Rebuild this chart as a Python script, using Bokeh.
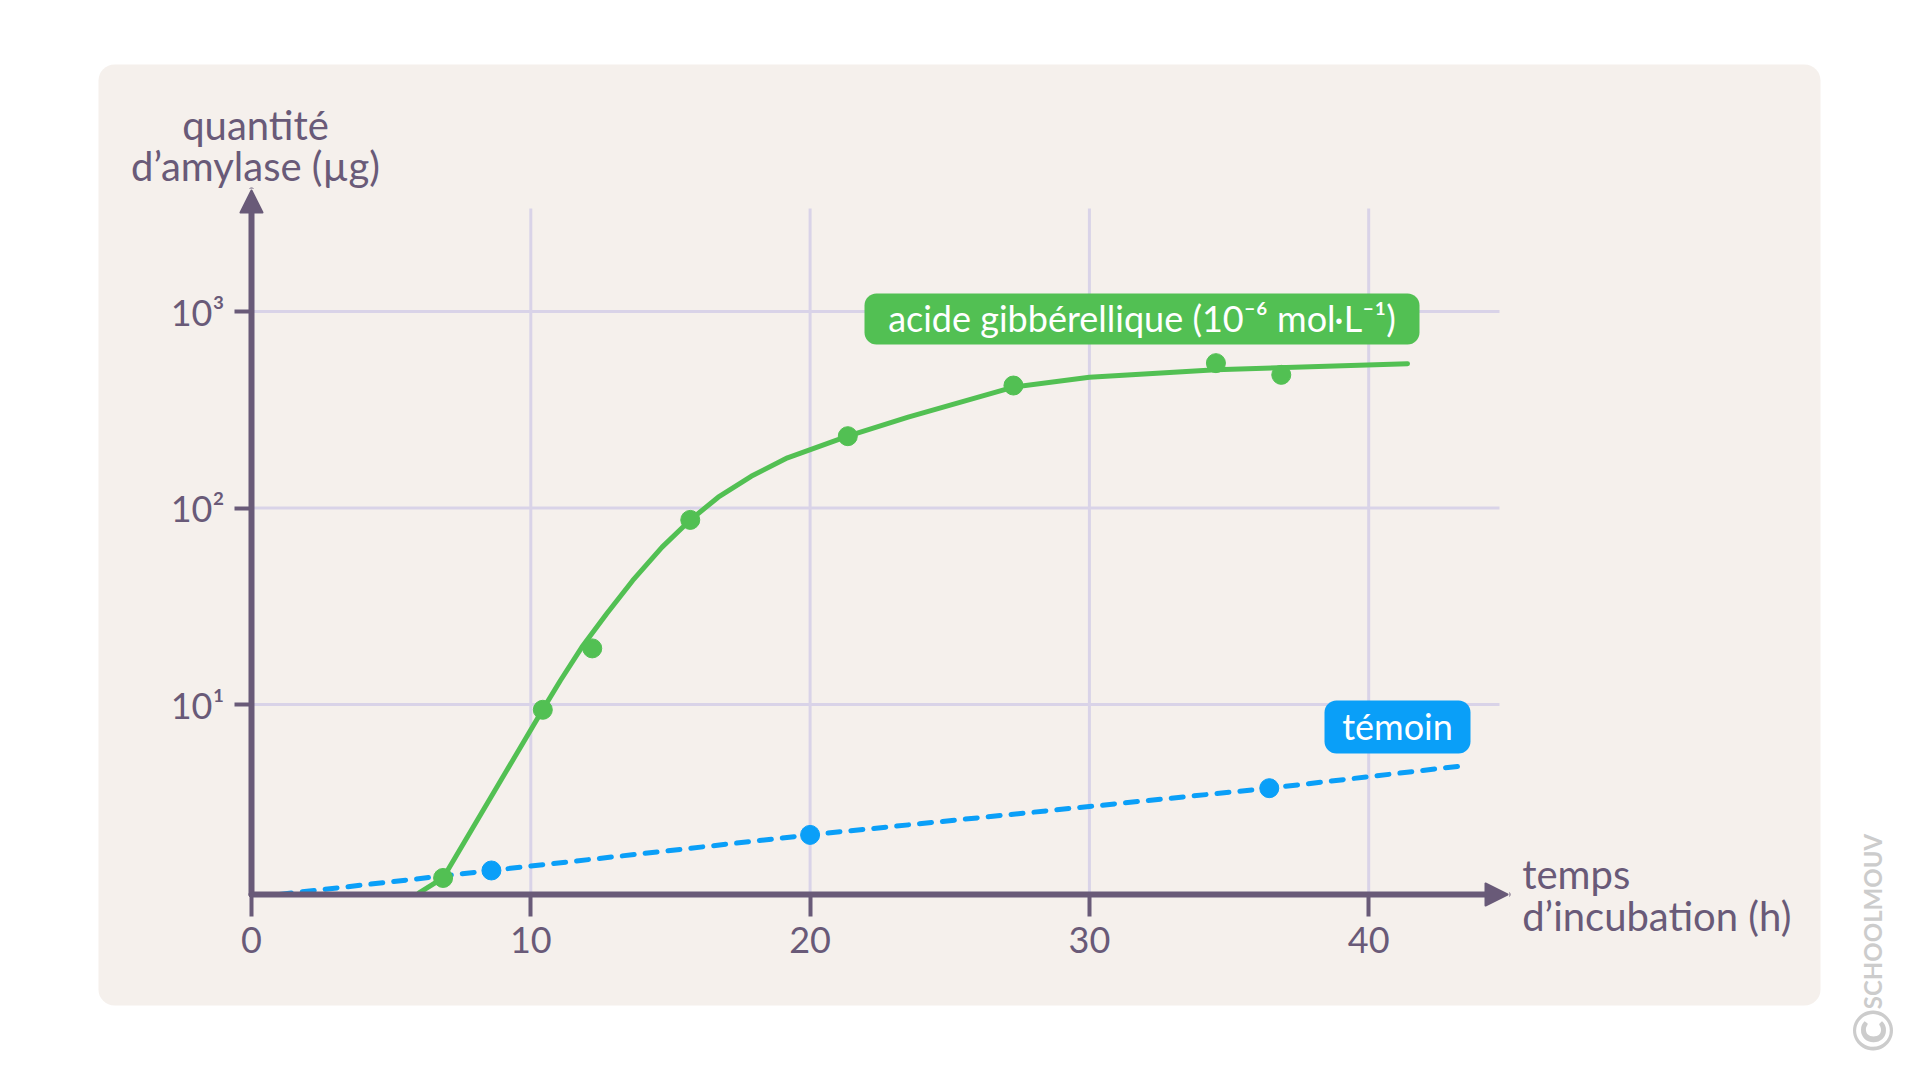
import math
from bokeh.plotting import figure
from bokeh.models import (FixedTicker, Range1d, Label, BoxAnnotation, Arrow, NormalHead)
from bokeh.embed import file_html
from bokeh.resources import INLINE

# ---------------- data ----------------
x_ticks = [0, 10, 20, 30, 40]
y_ticks = [10, 100, 1000]
y_tick_labels = {10: "10¹", 100: "10²", 1000: "10³"}

gibb_time = [6.86, 10.43, 12.2, 15.71, 21.35, 27.28, 34.53, 36.87]
gibb_amylase = [1.31, 9.4, 19.3, 87, 232, 420, 546, 476]
gibb_curve_time = [6.0, 6.86, 10.43, 11.06, 11.83, 12.71, 13.65, 14.70, 15.72,
                   16.71, 17.89, 19.19, 21.35, 23.51, 27.28, 30.0, 34.53, 41.39]
gibb_curve_amylase = [1.1, 1.31, 9.43, 13.25, 19.6, 28.9, 42.8, 63.2, 87.1,
                      113.5, 145, 180, 232, 290, 412, 463, 505, 542]

temoin_time = [8.59, 20.0, 36.44]
temoin_amylase = [1.43, 2.17, 3.75]
temoin_curve_time = [1.0, 8.59, 20.0, 36.44, 43.4]
temoin_curve_amylase = [1.08, 1.43, 2.17, 3.75, 4.88]

gibb_label = "acide gibbérellique (10⁻⁶ mol·L⁻¹)"
temoin_label = "témoin"
y_title = ["quantité", "d’amylase (µg)"]
x_title = ["temps", "d’incubation (h)"]

# ---------------- styling ----------------
AX = "#695a78"
GRID = "#d9d3e8"
BG = "#f5f0ec"
GREEN = "#52c053"
BLUE = "#0a9ff8"
FONT = "Lato"

# page-pixel helpers for annotation placement
X0 = 251.0
XS = 27.93
Y1 = 900.5
DEC = 196.5


def dx(px):
    return (px - X0) / XS


def dy(py):
    return 10 ** ((Y1 - py) / DEC)


W, H = 1920, 1080
p = figure(width=W, height=H, output_backend="svg", toolbar_location=None,
           y_axis_type="log",
           x_range=Range1d(dx(0), dx(W)), y_range=Range1d(dy(H), dy(0)),
           min_border=0)
p.border_fill_color = "white"
p.background_fill_color = "white"
p.outline_line_color = None
p.xgrid.visible = False
p.ygrid.visible = False

# panel background
p.add_layout(BoxAnnotation(left=dx(98), right=dx(1820), top=dy(64), bottom=dy(1005),
                           fill_color=BG, fill_alpha=1, line_color=None,
                           border_radius=16, level="underlay"))

# grid lines from tick lists
xg = [t for t in x_ticks if t > 0]
p.segment(x0=xg, y0=[dy(894)] * len(xg), x1=xg, y1=[dy(208)] * len(xg),
          line_color=GRID, line_width=3)
p.segment(x0=[0] * len(y_ticks), y0=y_ticks, x1=[dx(1499)] * len(y_ticks), y1=y_ticks,
          line_color=GRID, line_width=3)

# axes, fixed at the origin inside the frame
for ax in (p.xaxis[0], p.yaxis[0]):
    ax.axis_line_color = None
    ax.major_tick_line_color = AX
    ax.major_tick_line_width = 4
    ax.major_tick_in = 0
    ax.minor_tick_line_color = None
    ax.major_label_text_font = FONT
    ax.major_label_text_font_size = "36px"
    ax.major_label_text_color = AX
p.xaxis[0].fixed_location = dy(894)
p.xaxis[0].ticker = FixedTicker(ticks=x_ticks)
p.xaxis[0].major_tick_out = 22
p.xaxis[0].major_label_standoff = 10
p.yaxis[0].fixed_location = 0
p.yaxis[0].ticker = FixedTicker(ticks=y_ticks)
p.yaxis[0].major_label_overrides = y_tick_labels
p.yaxis[0].major_tick_out = 17
p.yaxis[0].major_label_standoff = 10

# axis lines with arrow heads
p.add_layout(Arrow(end=NormalHead(size=22, fill_color=AX, line_color=AX, line_width=2,
                                  line_join="round"),
                   x_start=dx(251), y_start=dy(894), x_end=dx(1507), y_end=dy(894),
                   line_color=AX, line_width=6, line_cap="round"))
p.add_layout(Arrow(end=NormalHead(size=22, fill_color=AX, line_color=AX, line_width=2,
                                  line_join="round"),
                   x_start=0, y_start=dy(894), x_end=0, y_end=dy(190),
                   line_color=AX, line_width=6, line_cap="round"))

# series
p.line(temoin_curve_time, temoin_curve_amylase, line_color=BLUE, line_width=5,
       line_dash="12 11", line_cap="round")
p.line(gibb_curve_time, gibb_curve_amylase, line_color=GREEN, line_width=5,
       line_join="round", line_cap="round")
p.scatter(temoin_time, temoin_amylase, size=19, color=BLUE)
p.scatter(gibb_time, gibb_amylase, size=19, color=GREEN)

# legend tags
p.add_layout(BoxAnnotation(left=dx(864), right=dx(1419), top=dy(293), bottom=dy(344),
                           fill_color=GREEN, fill_alpha=1, line_color=None, border_radius=12))
p.add_layout(BoxAnnotation(left=dx(1324), right=dx(1470), top=dy(700), bottom=dy(753),
                           fill_color=BLUE, fill_alpha=1, line_color=None, border_radius=12))
p.add_layout(Label(x=dx(1141.5), y=dy(317), text=gibb_label, text_align="center",
                   text_baseline="middle", text_color="white", text_font=FONT,
                   text_font_size="36px"))
p.add_layout(Label(x=dx(1397), y=dy(725), text=temoin_label, text_align="center",
                   text_baseline="middle", text_color="white", text_font=FONT,
                   text_font_size="36px"))

# axis titles
for txt, py in zip(y_title, (124.7, 165)):
    p.add_layout(Label(x=dx(255), y=dy(py), text=txt, text_align="center",
                       text_baseline="alphabetic", text_color=AX, text_font=FONT,
                       text_font_size="40px"))
for txt, py in zip(x_title, (873, 915)):
    p.add_layout(Label(x=dx(1521.7), y=dy(py), text=txt, text_align="left",
                       text_baseline="alphabetic", text_color=AX, text_font=FONT,
                       text_font_size="40px"))

# watermark
p.add_layout(Label(x=dx(1872), y=dy(921), text="SCHOOLMOUV", angle=math.pi / 2,
                   text_align="center", text_baseline="middle", text_color="#cccccc",
                   text_font=FONT, text_font_style="bold", text_font_size="24px"))
p.add_layout(Label(x=dx(1872), y=dy(1030), text="©", angle=math.pi / 2,
                   text_align="center", text_baseline="middle", text_color="#cccccc",
                   text_font=FONT, text_font_style="bold", text_font_size="54px"))

open("out.html", "w").write(file_html(p, INLINE))
